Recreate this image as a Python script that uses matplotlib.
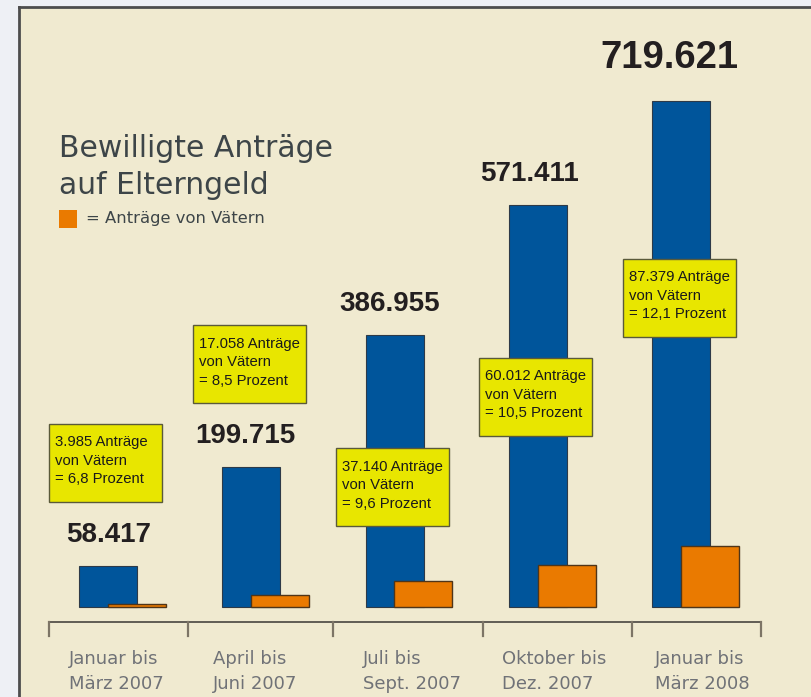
import matplotlib.pyplot as plt
from matplotlib.patches import Rectangle
from matplotlib.lines import Line2D

plt.rcParams['font.family'] = ['Liberation Sans', 'DejaVu Sans']

# data
categories = ["Januar bis\nMärz 2007", "April bis\nJuni 2007", "Juli bis\nSept. 2007",
              "Oktober bis\nDez. 2007", "Januar bis\nMärz 2008"]
total = [58417, 199715, 386955, 571411, 719621]
fathers = [3985, 17058, 37140, 60012, 87379]
father_pct = [6.8, 8.5, 9.6, 10.5, 12.1]

# layout of the yellow note boxes (value-axis centres) and label nudges
box_y = [205500, 345000, 170000, 299000, 440000]
label_dx = [1, -6, -5, -8, -12]
cat_dx = [-0.272, -0.267, -0.221, -0.251, -0.183]


def de(n):
    return f"{n:,}".replace(",", ".")


W, H = 812, 697
fig = plt.figure(figsize=(W / 100, H / 100), dpi=100, facecolor='#eef0f5')

# beige panel with dark border top/left
px, py = 19, 7
fig.patches.append(Rectangle((px / W, 0), 1, (H - py) / H, transform=fig.transFigure,
                             facecolor='#f0ead0', edgecolor='none', zorder=-10))
fig.lines.append(Line2D([px / W, px / W], [0, (H - py) / H], transform=fig.transFigure,
                        color='#4d4d4d', lw=2, zorder=-9))
fig.lines.append(Line2D([px / W, 1], [(H - py) / H, (H - py) / H], transform=fig.transFigure,
                        color='#4d4d4d', lw=2, zorder=-9))

ax = fig.add_axes([px / W, 0, (W - px) / W, (H - py) / H])
ax.set_facecolor('none')
ax.axis('off')
step = 143.3                 # pixels per category
upp = 1 / 0.000703           # value units per pixel
ax.set_xlim(-(108 - px) / step, (W - 108) / step)
ax.set_ylim(-(H - 607) * upp, (607 - py) * upp)

x = list(range(len(categories)))
ax.bar(x, total, width=0.405, color='#00559b', edgecolor='#2d3a48', linewidth=0.8, zorder=2)
ax.bar([i + 0.2 for i in x], fathers, width=0.405, color='#ea7a00', edgecolor='#4f3519',
       linewidth=1.0, zorder=3)

# value labels
for i, v in enumerate(total):
    big = i == len(total) - 1
    ax.annotate(de(v), xy=(i, v), xytext=(label_dx[i], 33 if big else 24),
                textcoords='offset pixels', ha='center', va='baseline',
                fontsize=27.5 if big else 20, fontweight='bold', color='#231f20', zorder=5)

# yellow notes
bw, bh = 113 / step, 78 * upp
for i, (f, p) in enumerate(zip(fathers, father_pct)):
    pct = f"{p:.1f}".replace(".", ",")
    txt = f"{de(f)} Anträge\nvon Vätern\n= {pct} Prozent"
    cx = i - 0.015
    ax.add_patch(Rectangle((cx - bw / 2, box_y[i] - bh / 2), bw, bh, facecolor='#e8e600',
                           edgecolor='#5a5a3a', linewidth=1.0, zorder=6))
    ax.text(cx - bw / 2 + 6 / step, box_y[i] + 2 * upp, txt, ha='left', va='center',
            fontsize=10.7, color='#1a1a1a', linespacing=1.4, zorder=7)

# bottom axis with separators
y_line = (H - 622) / (H - py)
y_tick = (H - 636) / (H - py)
seps = [(s - 108) / step for s in (49, 188, 333, 483, 632, 761)]
trans = ax.get_xaxis_transform()
ax.plot([seps[0], seps[-1]], [y_line, y_line], color='#55524a', lw=1.3, transform=trans,
        clip_on=False)
for s in seps:
    ax.plot([s, s], [y_line, y_tick], color='#7d7566', lw=1.6, transform=trans, clip_on=False)

for i, c in enumerate(categories):
    ax.text(i + cat_dx[i], (H - 650) / (H - py), c, transform=trans, ha='left', va='top',
            fontsize=13, color='#707277', linespacing=1.5, family='DejaVu Sans')

# title + legend
fig.text(59 / W, 1 - 157 / H, "Bewilligte Anträge", fontsize=21.5, color='#3d4548',
         va='baseline', family='DejaVu Sans')
fig.text(59 / W, 1 - 194 / H, "auf Elterngeld", fontsize=21.5, color='#3d4548',
         va='baseline', family='DejaVu Sans')
fig.patches.append(Rectangle((59 / W, 1 - 228 / H), 18 / W, 18 / H, transform=fig.transFigure,
                             facecolor='#ea7a00', edgecolor='none'))
fig.text(86 / W, 1 - 219 / H, "= Anträge von Vätern", fontsize=11.8, color='#3d4548',
         va='center', family='DejaVu Sans')

fig.savefig('out.png', dpi=100, facecolor=fig.get_facecolor())
